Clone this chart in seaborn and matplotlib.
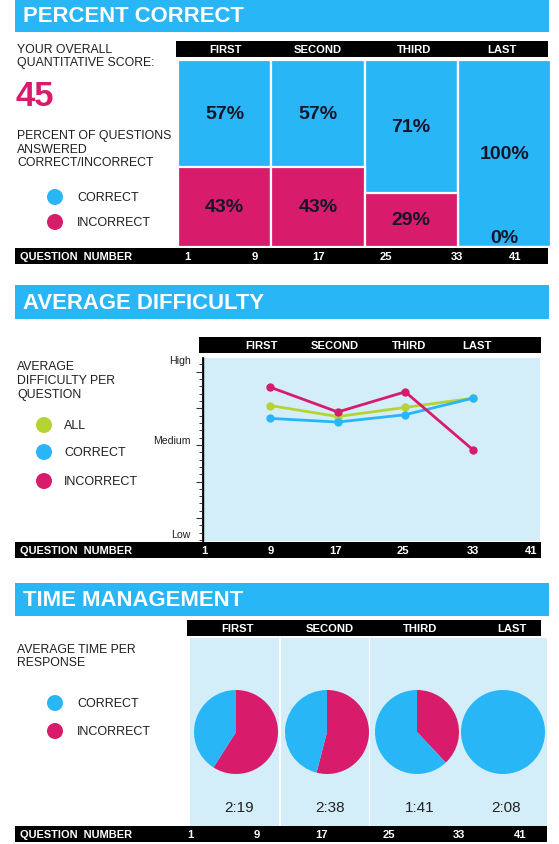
import numpy as np
import pandas as pd
import matplotlib
matplotlib.use("Agg")
import matplotlib.pyplot as plt
import seaborn as sns
from matplotlib.patches import Rectangle, Circle

# ---------------- data ----------------
quarters = ["FIRST", "SECOND", "THIRD", "LAST"]
pct_correct = [57, 57, 71, 100]
pct_incorrect = [43, 43, 29, 0]
overall_score = "45"
question_numbers = ["1", "9", "17", "25", "33", "41"]

diff_questions = [9, 17, 25, 33]
diff_all = [74, 68, 73, 78]
diff_correct = [67, 65, 69, 78]
diff_incorrect = [84, 70.5, 81.5, 50]
difficulty_levels = ["Low", "Medium", "High"]

time_incorrect_share = [59, 54, 38, 0]
time_correct_share = [41, 46, 62, 100]
avg_time = ["2:19", "2:38", "1:41", "2:08"]

# ---------------- style ----------------
BLUE = "#29b6f6"
PINK = "#d81b6a"
GREEN = "#b6d334"
LIGHT = "#d3eef9"
DARK = "#1e1e1e"
LABEL = "#15152a"

sns.set_theme(style="white")
plt.rcParams["font.family"] = ["Liberation Sans", "DejaVu Sans"]

W, H = 559, 845
fig = plt.figure(figsize=(W / 100, H / 100), dpi=100)
bg = fig.add_axes([0, 0, 1, 1], zorder=0)
bg.set_xlim(0, W)
bg.set_ylim(H, 0)
bg.axis("off")


def px_axes(x0, y0, x1, y1, z=2):
    return fig.add_axes([x0 / W, 1 - y1 / H, (x1 - x0) / W, (y1 - y0) / H], zorder=z)


def rect(x0, y0, x1, y1, color):
    bg.add_patch(Rectangle((x0, y0), x1 - x0, y1 - y0, facecolor=color, lw=0))


def txt(x, y, s, size=8.8, weight="normal", color=DARK, ha="left"):
    bg.text(x, y, s, fontsize=size, fontweight=weight, color=color, ha=ha, va="center")


def header(y0, y1, title):
    rect(15, y0, 549, y1, BLUE)
    txt(23, (y0 + y1) / 2 + 0.5, title, size=15.9, weight="bold", color="white")


def blackbar(x0, y0, x1, y1, labels, xs):
    rect(x0, y0, x1, y1, "black")
    for s, x in zip(labels, xs):
        txt(x, (y0 + y1) / 2, s, size=8.1, weight="bold", color="white", ha="center")


def qbar(y0, y1, x1, xs):
    rect(15, y0, x1, y1, "black")
    txt(20, (y0 + y1) / 2, "QUESTION  NUMBER", size=7.9, weight="bold", color="white")
    for s, x in zip(question_numbers, xs):
        txt(x, (y0 + y1) / 2, s, size=8.1, weight="bold", color="white", ha="center")


def legend(x, ys, labels, colors, tx):
    for y, l, c in zip(ys, labels, colors):
        bg.add_patch(Circle((x, y), 8, facecolor=c, lw=0))
        txt(tx, y, l, size=9)


# ================= Section 1: PERCENT CORRECT =================
header(0, 33, "PERCENT CORRECT")
txt(17, 50, "YOUR OVERALL")
txt(17, 63, "QUANTITATIVE SCORE:")
txt(16, 96, overall_score, size=25, weight="bold", color=PINK)
txt(17, 136, "PERCENT OF QUESTIONS")
txt(17, 150, "ANSWERED")
txt(17, 163, "CORRECT/INCORRECT")
legend(55, [198, 223], ["CORRECT", "INCORRECT"], [BLUE, PINK], 77)
blackbar(176, 42, 548, 58, quarters, [226, 318, 414, 502])

ax1 = px_axes(178, 61, 551, 248)
df1 = pd.DataFrame({"quarter": quarters, "correct": pct_correct,
                    "incorrect": pct_incorrect})
df1["total"] = df1["correct"] + df1["incorrect"]
sns.barplot(data=df1, x="quarter", y="total", color=BLUE, width=1.0,
            edgecolor="white", linewidth=1.6, saturation=1, ax=ax1)
sns.barplot(data=df1, x="quarter", y="incorrect", color=PINK, width=1.0,
            edgecolor="white", linewidth=1.6, saturation=1, ax=ax1)
ax1.set_xlim(-0.5, 3.5)
ax1.set_ylim(0, 100)
ax1.axis("off")
for i, (c, inc) in enumerate(zip(pct_correct, pct_incorrect)):
    ax1.text(i, inc + c / 2, f"{c}%", ha="center", va="center", fontsize=14,
             fontweight="bold", color=LABEL)
    ax1.text(i, max(inc / 2, 5), f"{inc}%", ha="center", va="center",
             fontsize=14, fontweight="bold", color=LABEL)
qbar(249, 265, 548, [187, 255, 319, 386, 457, 515])

# ================= Section 2: AVERAGE DIFFICULTY =================
header(286, 320, "AVERAGE DIFFICULTY")
txt(17, 367, "AVERAGE")
txt(17, 381, "DIFFICULTY PER")
txt(17, 395, "QUESTION")
legend(44, [426, 453, 482], ["ALL", "CORRECT", "INCORRECT"], [GREEN, BLUE, PINK], 64)
blackbar(199, 338, 541, 354, quarters, [262, 335, 409, 477])

ax2 = px_axes(203, 359, 540, 542)
ax2.set_facecolor(LIGHT)
df2 = pd.DataFrame({
    "question": diff_questions * 3,
    "difficulty": diff_all + diff_correct + diff_incorrect,
    "series": ["ALL"] * 4 + ["CORRECT"] * 4 + ["INCORRECT"] * 4,
})
sns.lineplot(data=df2, x="question", y="difficulty", hue="series",
             hue_order=["ALL", "CORRECT", "INCORRECT"],
             palette={"ALL": GREEN, "CORRECT": BLUE, "INCORRECT": PINK},
             marker="o", markersize=6, markeredgewidth=0, linewidth=2,
             legend=False, ax=ax2)
ax2.set_xlim(1, 41)
ax2.set_ylim(0, 100)
for s in ["top", "right", "bottom"]:
    ax2.spines[s].set_visible(False)
ax2.spines["left"].set_color("black")
ax2.spines["left"].set_linewidth(1.0)
ax2.set_xlabel("")
ax2.set_ylabel("")
ax2.set_xticks([])
ax2.set_yticks([4.4, 55.7, 99.3], difficulty_levels)
ax2.set_yticks(np.arange(0.5, 100, 4), minor=True)
ax2.tick_params(axis="y", which="major", length=0, pad=9, labelsize=7.6,
                labelcolor=DARK)
ax2.tick_params(axis="y", which="minor", left=True, length=3, width=0.7,
                color="#333333", direction="out")
sec = ax2.secondary_yaxis("left")
sec.set_yticks([12.5, 32.5, 52.5, 72.5, 92.5])
sec.set_yticklabels([])
sec.tick_params(length=5, width=0.8, color="#333333")
sec.spines["left"].set_color("black")
qbar(543, 559, 541, [204, 271, 336, 403, 473, 531])

# ================= Section 3: TIME MANAGEMENT =================
header(584, 617, "TIME MANAGEMENT")
txt(17, 650, "AVERAGE TIME PER")
txt(17, 663, "RESPONSE")
legend(55, [704, 732], ["CORRECT", "INCORRECT"], [BLUE, PINK], 77)
blackbar(187, 621, 541, 637, quarters, [238, 330, 420, 512])
rect(190, 639, 279, 827, LIGHT)
rect(281, 639, 369, 827, LIGHT)
rect(370, 639, 547, 827, LIGHT)

pie_cx = [236, 327, 417, 503]
pie_cy = 733
R = 42
for cx, inc, cor, t in zip(pie_cx, time_incorrect_share, time_correct_share, avg_time):
    axp = px_axes(cx - 1.25 * R, pie_cy - 1.25 * R, cx + 1.25 * R, pie_cy + 1.25 * R)
    axp.pie([inc, cor], colors=[PINK, BLUE], startangle=90, counterclock=False,
            radius=1, wedgeprops=dict(linewidth=0))
    axp.set_xlim(-1.25, 1.25)
    axp.set_ylim(-1.25, 1.25)
    axp.set_aspect("equal")
    axp.axis("off")
    txt(cx + 3, 808, t, size=11, color="#222222", ha="center")

qbar(827, 843, 547, [190, 257, 322, 389, 459, 520])

fig.savefig("out.png", dpi=100)
